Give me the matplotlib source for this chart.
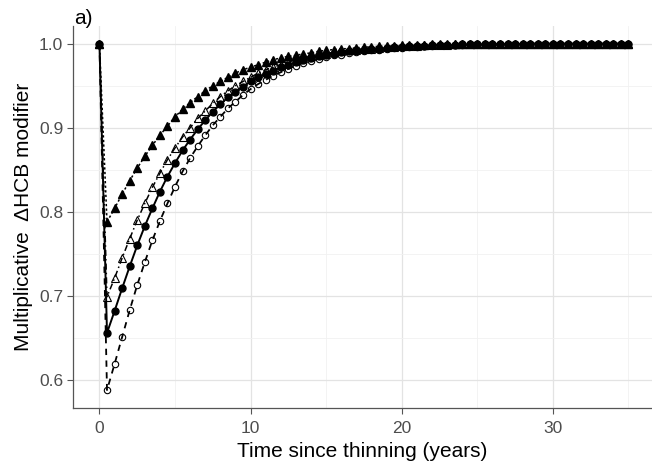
import matplotlib.pyplot as plt
from matplotlib.ticker import MultipleLocator

plt.rcParams['font.family'] = ['Liberation Sans', 'DejaVu Sans']

# years since thinning, every half year
time = [0.0, 0.5, 1.0, 1.5, 2.0, 2.5, 3.0, 3.5, 4.0, 4.5, 5.0, 5.5, 6.0, 6.5,
        7.0, 7.5, 8.0, 8.5, 9.0, 9.5, 10.0, 10.5, 11.0, 11.5, 12.0, 12.5, 13.0,
        13.5, 14.0, 14.5, 15.0, 15.5, 16.0, 16.5, 17.0, 17.5, 18.0, 18.5, 19.0,
        19.5, 20.0, 20.5, 21.0, 21.5, 22.0, 22.5, 23.0, 23.5, 24.0, 24.5, 25.0,
        25.5, 26.0, 26.5, 27.0, 27.5, 28.0, 28.5, 29.0, 29.5, 30.0, 30.5, 31.0,
        31.5, 32.0, 32.5, 33.0, 33.5, 34.0, 34.5, 35.0]

tri_filled = [1.000, 0.788, 0.804, 0.821, 0.837, 0.852, 0.866, 0.879, 0.891, 0.902,
              0.913, 0.922, 0.930, 0.937, 0.944, 0.950, 0.955, 0.960, 0.965, 0.969,
              0.972, 0.975, 0.978, 0.981, 0.983, 0.985, 0.986, 0.988, 0.989, 0.991,
              0.992, 0.993, 0.994, 0.994, 0.995, 0.996, 0.996, 0.997, 0.997, 0.997,
              0.998, 0.998, 0.998, 0.998, 0.999, 0.999, 0.999, 0.999, 0.999, 0.999,
              0.999, 0.999, 1.000, 1.000, 1.000, 1.000, 1.000, 1.000, 1.000, 1.000,
              1.000, 1.000, 1.000, 1.000, 1.000, 1.000, 1.000, 1.000, 1.000, 1.000,
              1.000]

tri_open = [1.000, 0.699, 0.721, 0.745, 0.768, 0.790, 0.810, 0.829, 0.846, 0.862,
            0.876, 0.889, 0.900, 0.911, 0.920, 0.929, 0.937, 0.944, 0.950, 0.955,
            0.960, 0.965, 0.969, 0.972, 0.975, 0.978, 0.981, 0.983, 0.985, 0.987,
            0.988, 0.990, 0.991, 0.992, 0.993, 0.994, 0.994, 0.995, 0.996, 0.996,
            0.997, 0.997, 0.997, 0.998, 0.998, 0.998, 0.998, 0.999, 0.999, 0.999,
            0.999, 0.999, 0.999, 0.999, 0.999, 1.000, 1.000, 1.000, 1.000, 1.000,
            1.000, 1.000, 1.000, 1.000, 1.000, 1.000, 1.000, 1.000, 1.000, 1.000,
            1.000]

circ_filled = [1.000, 0.656, 0.682, 0.709, 0.735, 0.760, 0.783, 0.804, 0.824, 0.842,
               0.858, 0.873, 0.886, 0.898, 0.909, 0.919, 0.928, 0.936, 0.943, 0.949,
               0.955, 0.960, 0.964, 0.968, 0.972, 0.975, 0.978, 0.981, 0.983, 0.985,
               0.987, 0.988, 0.990, 0.991, 0.992, 0.993, 0.994, 0.994, 0.995, 0.996,
               0.996, 0.997, 0.997, 0.997, 0.998, 0.998, 0.998, 0.998, 0.999, 0.999,
               0.999, 0.999, 0.999, 0.999, 0.999, 0.999, 1.000, 1.000, 1.000, 1.000,
               1.000, 1.000, 1.000, 1.000, 1.000, 1.000, 1.000, 1.000, 1.000, 1.000,
               1.000]

circ_open = [1.000, 0.588, 0.619, 0.651, 0.683, 0.713, 0.740, 0.766, 0.789, 0.810,
             0.830, 0.848, 0.864, 0.878, 0.891, 0.903, 0.913, 0.923, 0.931, 0.939,
             0.946, 0.952, 0.957, 0.962, 0.966, 0.970, 0.974, 0.977, 0.979, 0.982,
             0.984, 0.986, 0.987, 0.989, 0.990, 0.991, 0.992, 0.993, 0.994, 0.995,
             0.995, 0.996, 0.996, 0.997, 0.997, 0.998, 0.998, 0.998, 0.998, 0.999,
             0.999, 0.999, 0.999, 0.999, 0.999, 0.999, 0.999, 1.000, 1.000, 1.000,
             1.000, 1.000, 1.000, 1.000, 1.000, 1.000, 1.000, 1.000, 1.000, 1.000,
             1.000]

fig = plt.figure(figsize=(6.52, 4.61), dpi=100)
ax = fig.add_axes([73 / 652, 1 - 408 / 461, 1 - 73 / 652, 382 / 461])

ax.plot(time, circ_open, color='black', lw=1.3, dashes=(3.5, 3),
        marker='o', ms=4.6, mfc='none', mec='black', mew=0.8)
ax.plot(time, circ_filled, color='black', lw=1.4, linestyle='-',
        marker='o', ms=5, mfc='black', mec='black')
ax.plot(time, tri_open, color='black', lw=1.1, dashes=(4, 2, 1, 2),
        marker='^', ms=5.6, mfc='none', mec='black', mew=0.8)
ax.plot(time, tri_filled, color='black', lw=1.1, dashes=(1.5, 1.5),
        marker='^', ms=5.6, mfc='black', mec='black')

ax.set_xlim(-1.75, 36.56)
ax.set_ylim(0.5667, 1.021)
ax.xaxis.set_major_locator(MultipleLocator(10))
ax.xaxis.set_minor_locator(MultipleLocator(5))
ax.yaxis.set_major_locator(MultipleLocator(0.1))
ax.yaxis.set_minor_locator(MultipleLocator(0.05))
ax.yaxis.set_major_formatter(plt.FormatStrFormatter('%.1f'))

ax.grid(which='major', color='#e3e3e3', lw=0.9)
ax.grid(which='minor', color='#f1f1f1', lw=0.6)
ax.set_axisbelow(True)

for s in ['top', 'right']:
    ax.spines[s].set_visible(False)
for s in ['left', 'bottom']:
    ax.spines[s].set_color('#555555')
    ax.spines[s].set_linewidth(0.9)

ax.tick_params(which='major', length=4, width=0.8, color='#555555',
               labelsize=12.5, labelcolor='#4d4d4d')
ax.tick_params(which='minor', length=0)
ax.tick_params(axis='x', pad=5)
ax.tick_params(axis='y', pad=3)

ax.set_xlabel('Time since thinning (years)', fontsize=15, labelpad=5)
ax.set_ylabel('Multiplicative  \u0394HCB modifier', fontsize=15, labelpad=4)
fig.text(74 / 652, 1 - 24 / 461, 'a)', fontsize=15, va='baseline')

fig.savefig('out.png', dpi=100)
